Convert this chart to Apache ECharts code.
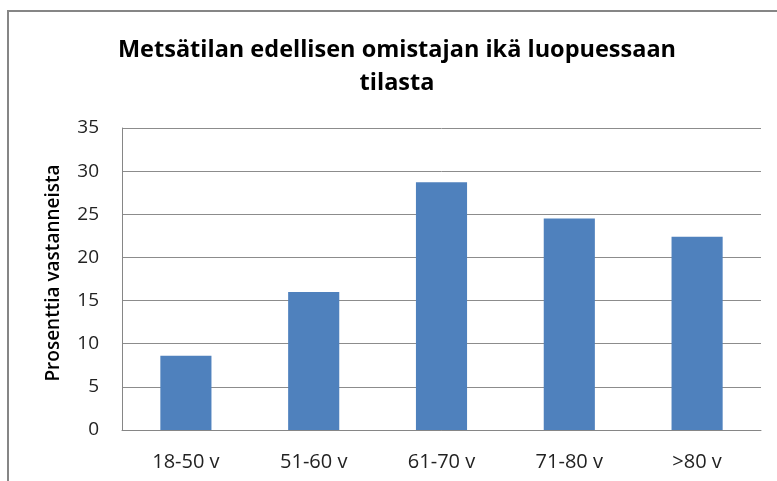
<!DOCTYPE html>
<html>
<head>
<meta charset="utf-8">
<script src="https://cdn.jsdelivr.net/npm/echarts@6/dist/echarts.min.js"></script>
<style>
html,body{margin:0;padding:0;background:#fff;}
#chart{width:777px;height:481px;}
</style>
</head>
<body>
<div id="chart"></div>
<script>
const titleText = "Metsätilan edellisen omistajan ikä luopuessaan\ntilasta";
const yAxisName = "Prosenttia vastanneista";
const categories = ["18-50 v", "51-60 v", "61-70 v", "71-80 v", ">80 v"];
const values = [8.6, 16.0, 28.7, 24.5, 22.4];
const yMin = 0, yMax = 35, yStep = 5;

const chart = echarts.init(document.getElementById('chart'), null, {renderer: 'canvas'});
const fontFam = '"Open Sans", "Liberation Sans", sans-serif';
chart.setOption({
  animation: false,
  backgroundColor: '#ffffff',
  graphic: [{
    type: 'rect',
    shape: {x: 8, y: 11, width: 800, height: 500},
    style: {fill: 'none', stroke: '#868686', lineWidth: 2},
    silent: true
  }],
  title: {
    text: titleText,
    left: 392,
    textAlign: 'center',
    top: 29,
    textStyle: {fontFamily: fontFam, fontSize: 23.5, fontWeight: 'bold', color: '#000', lineHeight: 33}
  },
  grid: {left: 122, right: 16, top: 128, bottom: 51, containLabel: false},
  xAxis: {
    type: 'category',
    data: categories,
    axisLine: {show: true, lineStyle: {color: '#868686', width: 1}},
    axisTick: {show: false},
    axisLabel: {margin: 22, fontFamily: fontFam, fontSize: 20, color: '#222'}
  },
  yAxis: {
    type: 'value',
    min: yMin, max: yMax, interval: yStep,
    name: yAxisName,
    nameLocation: 'middle',
    nameGap: 59,
    nameTextStyle: {fontFamily: fontFam, fontSize: 19, fontWeight: 600, color: '#000', padding: [0, 0, 0, 12]},
    axisLine: {show: true, lineStyle: {color: '#868686', width: 1}},
    axisTick: {show: false},
    axisLabel: {margin: 23, fontFamily: fontFam, fontSize: 19, color: '#222'},
    splitLine: {show: true, lineStyle: {color: '#8c8c8c', width: 1}}
  },
  series: [{
    type: 'bar',
    data: values,
    barWidth: '40%',
    itemStyle: {color: '#4f81bd'}
  }]
});
</script>
</body>
</html>
